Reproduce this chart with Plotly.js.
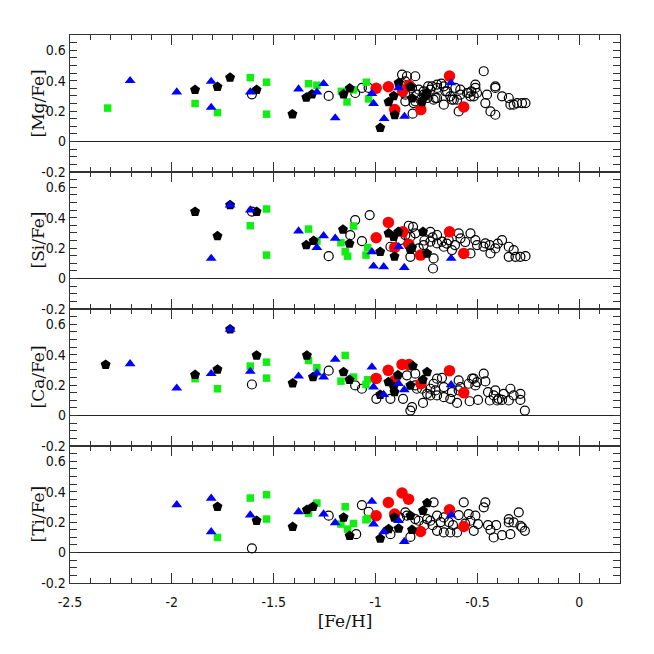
<!DOCTYPE html>
<html>
<head>
<meta charset="utf-8">
<script src="https://cdn.plot.ly/plotly-3.0.1.min.js"></script>
<style>html,body{margin:0;padding:0;background:#fff;}#chart{width:654px;height:654px;}</style>
</head>
<body>
<div id="chart"></div>
<script>
// ---------- data ----------
const xTickVals = [-2.5, -2, -1.5, -1, -0.5, 0];
const xTickLabels = ["-2.5", "-2", "-1.5", "-1", "-0.5", "0"];
const yTickVals = [-0.2, 0, 0.2, 0.4, 0.6];
const yTickLabels = ["-0.2", "0", "0.2", "0.4", "0.6"];
const panelTitles = ["[Mg/Fe]", "[Si/Fe]", "[Ca/Fe]", "[Ti/Fe]"];

// [Mg/Fe]
const mgOpenFeH = [-1.607,-1.23,-1.100,-1.067,-1.034,-0.870,-0.846,-0.805,-0.854,-0.878,-0.821,-0.788,-0.764,-0.731,-0.698,-0.698,-0.665,-0.657,-0.633,-0.625,-0.608,-0.584,-0.584,-0.600,-0.592,-0.543,-0.534,-0.510,-0.510,-0.502,-0.518,-0.469,-0.453,-0.412,-0.379,-0.346,-0.338,-0.322,-0.305,-0.281,-0.264,-0.461,-0.436,-0.412,-0.715,-0.665,-0.698,-0.747,-0.780,-0.805,-0.797,-0.818,-0.854,-0.854,-0.742,-0.723,-0.677,-0.649,-0.616,-0.551,-0.530,-0.412,-0.706,-0.764,-0.813];
const mgOpen    = [0.31,0.30,0.319,0.352,0.352,0.440,0.429,0.429,0.396,0.374,0.352,0.341,0.330,0.341,0.374,0.352,0.363,0.330,0.297,0.275,0.352,0.341,0.308,0.275,0.198,0.319,0.297,0.374,0.352,0.319,0.297,0.462,0.308,0.352,0.297,0.286,0.242,0.242,0.253,0.253,0.253,0.253,0.198,0.176,0.275,0.242,0.286,0.286,0.275,0.264,0.308,0.183,0.264,0.308,0.363,0.363,0.380,0.330,0.275,0.319,0.330,0.363,0.286,0.308,0.253];
const mgSqFeH = [-2.315,-1.886,-1.776,-1.615,-1.535,-1.535,-1.329,-1.288,-1.168,-1.140,-1.108,-1.045,-1.034];
const mgSq    = [0.22,0.25,0.19,0.42,0.39,0.18,0.38,0.37,0.33,0.26,0.34,0.39,0.28];
const mgRedFeH = [-0.997,-0.937,-0.906,-0.867,-0.836,-0.778,-0.637,-0.567];
const mgRed    = [0.35,0.36,0.21,0.33,0.37,0.21,0.43,0.227];
const mgPentFeH = [-1.886,-1.776,-1.714,-1.584,-1.408,-1.340,-1.312,-1.157,-1.127,-0.977,-0.936,-0.911,-0.906,-0.887,-0.829,-0.821,-0.772,-0.756,-0.747];
const mgPent    = [0.34,0.36,0.42,0.34,0.18,0.29,0.31,0.31,0.35,0.09,0.26,0.30,0.175,0.385,0.36,0.285,0.26,0.30,0.32];
const mgTriFeH = [-2.205,-1.976,-1.807,-1.807,-1.615,-1.378,-1.288,-1.255,-1.198,-1.018,-1.010,-0.958,-0.887,-0.858,-0.630];
const mgTri    = [0.40,0.325,0.395,0.224,0.325,0.345,0.325,0.38,0.155,0.315,0.25,0.15,0.352,0.165,0.385];

// [Si/Fe]
const siOpenFeH = [-1.607,-1.23,-1.029,-1.100,-1.124,-1.067,-0.837,-0.816,-0.805,-0.854,-0.878,-0.731,-0.698,-0.731,-0.698,-0.665,-0.674,-0.641,-0.592,-0.583,-0.534,-0.510,-0.502,-0.461,-0.412,-0.379,-0.346,-0.322,-0.346,-0.313,-0.289,-0.264,-0.436,-0.534,-0.625,-0.715,-0.718,-0.829,-0.788,-0.764,-0.927,-0.829,-0.760,-0.720,-0.650,-0.610,-0.560,-0.470,-0.440,-0.400];
const siOpen    = [0.44,0.147,0.417,0.384,0.285,0.246,0.347,0.340,0.297,0.286,0.253,0.307,0.286,0.242,0.231,0.209,0.242,0.253,0.297,0.264,0.297,0.253,0.220,0.231,0.198,0.253,0.209,0.187,0.143,0.143,0.143,0.147,0.165,0.165,0.187,0.132,0.066,0.143,0.198,0.220,0.209,0.275,0.250,0.270,0.230,0.220,0.240,0.210,0.220,0.230];
const siSqFeH = [-1.615,-1.535,-1.535,-1.329,-1.288,-1.170,-1.108,-1.149,-1.137,-1.039,-1.047];
const siSq    = [0.347,0.457,0.154,0.325,0.246,0.235,0.345,0.176,0.147,0.204,0.154];
const siRedFeH = [-0.997,-0.937,-0.906,-0.866,-0.837,-0.779,-0.637,-0.567];
const siRed    = [0.268,0.369,0.204,0.307,0.226,0.154,0.307,0.165];
const siPentFeH = [-1.886,-1.776,-1.714,-1.584,-1.340,-1.304,-1.160,-1.128,-0.977,-0.936,-0.911,-0.907,-0.888,-0.829,-0.821,-0.767,-0.747];
const siPent    = [0.439,0.279,0.483,0.439,0.220,0.248,0.322,0.230,0.176,0.297,0.275,0.145,0.307,0.190,0.204,0.307,0.165];
const siTriFeH = [-1.807,-1.714,-1.615,-1.378,-1.288,-1.255,-1.198,-1.018,-1.010,-0.960,-0.887,-0.859,-0.629];
const siTri    = [0.132,0.483,0.450,0.312,0.204,0.281,0.264,0.176,0.081,0.077,0.209,0.072,0.132];

// [Ca/Fe]
const caOpenFeH = [-1.607,-1.23,-1.100,-1.067,-0.996,-0.927,-0.865,-0.829,-0.821,-0.846,-0.805,-0.797,-0.767,-0.747,-0.731,-0.715,-0.698,-0.674,-0.665,-0.698,-0.665,-0.633,-0.600,-0.625,-0.592,-0.584,-0.543,-0.518,-0.502,-0.510,-0.538,-0.497,-0.469,-0.461,-0.448,-0.439,-0.412,-0.403,-0.420,-0.379,-0.346,-0.338,-0.322,-0.289,-0.289,-0.371,-0.267,-0.772,-0.805,-0.706,-0.731,-0.592,-0.526,-0.395];
const caOpen    = [0.204,0.295,0.198,0.176,0.110,0.110,0.110,0.033,0.055,0.264,0.275,0.176,0.083,0.143,0.176,0.209,0.242,0.248,0.187,0.132,0.121,0.110,0.083,0.154,0.231,0.187,0.209,0.242,0.220,0.198,0.094,0.103,0.275,0.224,0.154,0.099,0.165,0.099,0.132,0.103,0.099,0.176,0.132,0.143,0.103,0.143,0.033,0.176,0.198,0.165,0.132,0.165,0.242,0.110];
const caSqFeH = [-1.886,-1.776,-1.615,-1.535,-1.535,-1.329,-1.288,-1.170,-1.149,-1.108,-1.039,-1.047];
const caSq    = [0.242,0.176,0.325,0.351,0.246,0.362,0.314,0.226,0.395,0.253,0.235,0.204];
const caRedFeH = [-0.997,-0.938,-0.906,-0.870,-0.836,-0.777,-0.637,-0.567];
const caRed    = [0.244,0.297,0.230,0.336,0.335,0.209,0.295,0.149];
const caPentFeH = [-2.325,-1.886,-1.776,-1.714,-1.584,-1.407,-1.337,-1.307,-1.157,-1.128,-0.977,-0.937,-0.911,-0.907,-0.890,-0.817,-0.829,-0.768,-0.747];
const caPent    = [0.334,0.268,0.303,0.567,0.395,0.213,0.395,0.253,0.286,0.235,0.137,0.220,0.190,0.154,0.266,0.325,0.198,0.235,0.286];
const caTriFeH = [-2.205,-1.976,-1.807,-1.714,-1.615,-1.378,-1.288,-1.255,-1.198,-1.018,-1.010,-0.960,-0.887,-0.859,-0.629];
const caTri    = [0.340,0.180,0.275,0.567,0.290,0.259,0.279,0.253,0.369,0.319,0.187,0.138,0.209,0.169,0.202];

// [Ti/Fe]
const tiOpenFeH = [-1.607,-1.23,-1.067,-1.034,-1.095,-0.927,-0.829,-0.854,-0.846,-0.805,-0.788,-0.731,-0.715,-0.698,-0.698,-0.665,-0.665,-0.633,-0.600,-0.592,-0.567,-0.543,-0.534,-0.510,-0.497,-0.518,-0.469,-0.461,-0.448,-0.420,-0.408,-0.436,-0.379,-0.338,-0.346,-0.346,-0.322,-0.297,-0.289,-0.281,-0.267,-0.747,-0.760,-0.720,-0.680,-0.640,-0.620,-0.560,-0.880];
const tiOpen    = [0.028,0.242,0.312,0.268,0.121,0.121,0.103,0.264,0.242,0.220,0.209,0.209,0.330,0.242,0.143,0.132,0.231,0.132,0.132,0.246,0.330,0.253,0.209,0.242,0.187,0.143,0.297,0.330,0.180,0.099,0.180,0.149,0.114,0.121,0.220,0.198,0.198,0.264,0.176,0.165,0.143,0.220,0.180,0.180,0.200,0.200,0.180,0.190,0.230];
const tiSqFeH = [-1.776,-1.615,-1.535,-1.535,-1.329,-1.288,-1.170,-1.149,-1.108,-1.137,-1.039,-1.047];
const tiSq    = [0.099,0.358,0.380,0.220,0.259,0.325,0.187,0.301,0.191,0.154,0.224,0.215];
const tiRedFeH = [-0.997,-0.937,-0.906,-0.870,-0.838,-0.779,-0.637,-0.567];
const tiRed    = [0.242,0.329,0.253,0.391,0.351,0.138,0.281,0.171];
const tiPentFeH = [-1.776,-1.584,-1.407,-1.337,-1.307,-1.157,-1.127,-0.977,-0.936,-0.908,-0.887,-0.829,-0.821,-0.767,-0.747];
const tiPent    = [0.301,0.209,0.169,0.281,0.301,0.231,0.110,0.092,0.154,0.231,0.158,0.242,0.149,0.275,0.325];
const tiTriFeH = [-1.976,-1.807,-1.807,-1.615,-1.378,-1.255,-1.198,-1.018,-1.010,-0.960,-0.887,-0.859,-0.629];
const tiTri    = [0.314,0.356,0.136,0.246,0.268,0.253,0.195,0.336,0.187,0.136,0.209,0.072,0.246];

// ---------- build ----------
const panels = [
  {open:[mgOpenFeH,mgOpen], sq:[mgSqFeH,mgSq], red:[mgRedFeH,mgRed], pent:[mgPentFeH,mgPent], tri:[mgTriFeH,mgTri]},
  {open:[siOpenFeH,siOpen], sq:[siSqFeH,siSq], red:[siRedFeH,siRed], pent:[siPentFeH,siPent], tri:[siTriFeH,siTri]},
  {open:[caOpenFeH,caOpen], sq:[caSqFeH,caSq], red:[caRedFeH,caRed], pent:[caPentFeH,caPent], tri:[caTriFeH,caTri]},
  {open:[tiOpenFeH,tiOpen], sq:[tiSqFeH,tiSq], red:[tiRedFeH,tiRed], pent:[tiPentFeH,tiPent], tri:[tiTriFeH,tiTri]}
];
const styles = {
  open: {symbol:'circle-open', size:9, color:'#000', line:{width:1.2, color:'#000'}},
  sq:   {symbol:'square', size:7.5, color:'#11ee11', line:{width:0}},
  red:  {symbol:'circle', size:11.5, color:'#ff0000', line:{width:0}},
  pent: {symbol:'pentagon', size:10.5, color:'#000', line:{width:0}},
  tri:  {symbol:'triangle-up', size:9.5, color:'#0000ff', line:{width:0}}
};
const order = ['open','sq','red','pent','tri'];
const traces = [];
panels.forEach((p, i) => {
  const n = i + 1;
  order.forEach(k => {
    traces.push({
      type:'scatter', mode:'markers',
      x:p[k][0], y:p[k][1],
      xaxis: n === 1 ? 'x' : 'x' + n,
      yaxis: n === 1 ? 'y' : 'y' + n,
      marker: styles[k], showlegend:false, hoverinfo:'x+y'
    });
  });
});

const tickFont = {family:'"Liberation Sans Narrow", "DejaVu Sans Condensed", "Liberation Sans", sans-serif', size:14, color:'#111'};
const titleFont = {family:'"DejaVu Serif", "Liberation Serif", serif', size:17, color:'#111'};
const layout = {
  width:654, height:654,
  margin:{l:70, r:34, t:35, b:71},
  paper_bgcolor:'#fff', plot_bgcolor:'#fff',
  showlegend:false,
  annotations:[]
};
for (let i = 0; i < 4; i++) {
  const n = i + 1;
  const xa = n === 1 ? 'xaxis' : 'xaxis' + n;
  const ya = n === 1 ? 'yaxis' : 'yaxis' + n;
  const top = 1 - i * 0.25, bot = 1 - (i + 1) * 0.25;
  layout[xa] = {
    range:[-2.5, 0.2], anchor: n === 1 ? 'y' : 'y' + n,
    tickmode:'array', tickvals:xTickVals, ticktext:xTickLabels,
    showticklabels: n === 4, tickfont:tickFont, ticklabelstandoff:6,
    ticks:'inside', ticklen:10, tickwidth:1.2, tickcolor:'#333',
    minor:{ticks:'inside', ticklen:5, tickwidth:1, tickcolor:'#333', tickmode:'linear', tick0:0, dtick:0.1, showgrid:false},
    showline:true, linecolor:'#333', linewidth:1.3, mirror:'ticks',
    showgrid:false, zeroline:false, fixedrange:true
  };
  if (n !== 1) layout[xa].matches = 'x';
  if (n === 4) layout[xa].title = {text:'[Fe/H]', font:titleFont, standoff:6};
  layout[ya] = {
    domain:[bot, top], range:[-0.2, 0.7], anchor: n === 1 ? 'x' : 'x' + n,
    tickmode:'array', tickvals:yTickVals, ticktext:yTickLabels, tickfont:tickFont,
    ticks:'inside', ticklen:7, tickwidth:1.1, tickcolor:'#333',
    minor:{ticks:'inside', ticklen:7, tickwidth:1, tickcolor:'#333', tickmode:'linear', tick0:0, dtick:0.05, showgrid:false},
    showline:true, linecolor:'#333', linewidth:1.3, mirror:'ticks',
    showgrid:false, zeroline:true, zerolinecolor:'#222', zerolinewidth:1.3,
    fixedrange:true
  };
  layout.annotations.push({
    text:panelTitles[i], textangle:-90, font:titleFont,
    xref:'paper', yref:'paper', x:-0.06, y:(top + bot) / 2,
    xanchor:'center', yanchor:'middle', showarrow:false
  });
}
Plotly.newPlot('chart', traces, layout, {staticPlot:true, displayModeBar:false});
</script>
</body>
</html>
